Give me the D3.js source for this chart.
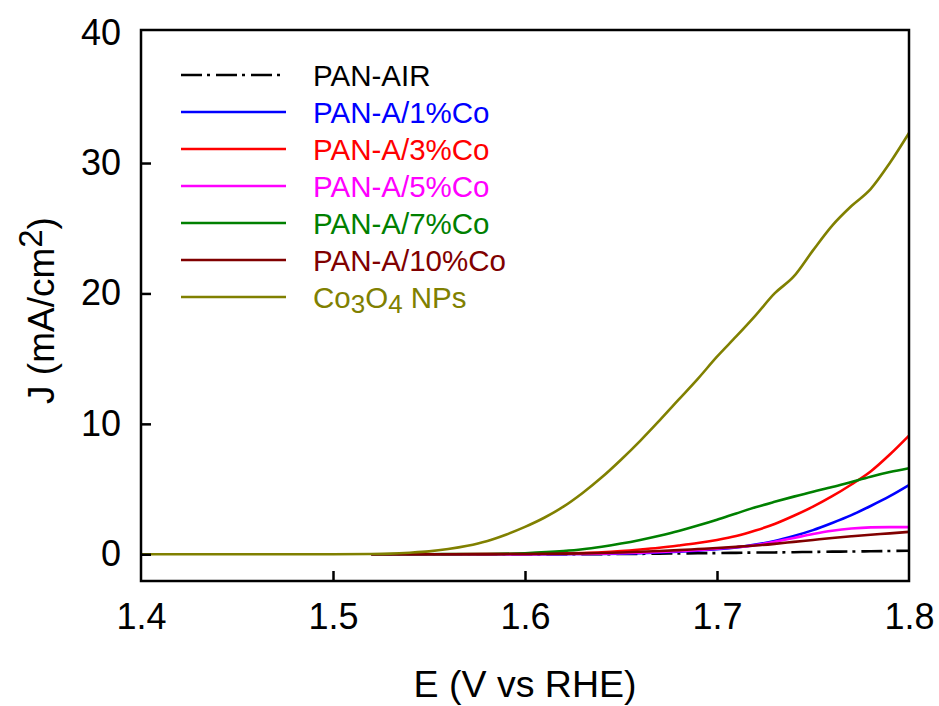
<!DOCTYPE html>
<html>
<head>
<meta charset="utf-8">
<script src="https://cdn.jsdelivr.net/npm/d3@7/dist/d3.min.js"></script>
<style>
  body { margin: 0; background: #fff; }
  svg { display: block; font-family: "Liberation Sans", Arial, sans-serif; }
</style>
</head>
<body>
<svg id="chart" width="939" height="706"></svg>
<script>
// ---- Data ----
const seriesNames = ["PAN-AIR", "PAN-A/1%Co", "PAN-A/3%Co", "PAN-A/5%Co", "PAN-A/7%Co", "PAN-A/10%Co", "Co3O4 NPs"];
const seriesColors = ["#000000", "#0000FF", "#FF0000", "#FF00FF", "#008000", "#800000", "#808000"];

const E_late = [1.52, 1.55, 1.58, 1.60, 1.62, 1.63, 1.64, 1.65, 1.66, 1.67, 1.68, 1.69, 1.70, 1.71, 1.72, 1.73, 1.74, 1.75, 1.76, 1.77, 1.78, 1.79, 1.80];
const J_panAir = [0, 0, 0, 0, 0, 0.01, 0.01, 0.02, 0.03, 0.05, 0.06, 0.08, 0.09, 0.11, 0.13, 0.14, 0.16, 0.18, 0.2, 0.21, 0.23, 0.25, 0.27];
const J_1Co   = [0, 0, 0, 0, 0.01, 0.02, 0.03, 0.05, 0.08, 0.13, 0.2, 0.28, 0.38, 0.53, 0.74, 1.02, 1.4, 1.85, 2.4, 3.0, 3.7, 4.45, 5.3];
const J_3Co   = [0, 0, 0.01, 0.03, 0.07, 0.1, 0.15, 0.24, 0.36, 0.5, 0.67, 0.86, 1.1, 1.4, 1.82, 2.32, 2.95, 3.65, 4.45, 5.35, 6.35, 7.65, 9.1];
const J_5Co   = [0, 0, 0, 0.01, 0.02, 0.03, 0.05, 0.08, 0.12, 0.17, 0.24, 0.32, 0.42, 0.54, 0.7, 0.95, 1.25, 1.55, 1.8, 1.97, 2.06, 2.08, 2.08];
const J_7Co   = [0, 0.005, 0.02, 0.08, 0.24, 0.38, 0.58, 0.82, 1.1, 1.42, 1.78, 2.2, 2.65, 3.13, 3.6, 4.02, 4.42, 4.8, 5.15, 5.55, 5.95, 6.3, 6.6];
const J_10Co  = [0, 0.005, 0.01, 0.02, 0.05, 0.07, 0.1, 0.14, 0.19, 0.25, 0.32, 0.4, 0.48, 0.57, 0.67, 0.8, 0.95, 1.1, 1.25, 1.38, 1.5, 1.6, 1.72];

const E_co3o4 = [1.40, 1.45, 1.50, 1.52, 1.53, 1.54, 1.55, 1.56, 1.57, 1.58, 1.59, 1.60, 1.61, 1.62, 1.63, 1.64, 1.65, 1.66, 1.67, 1.68, 1.69, 1.70, 1.71, 1.72, 1.73, 1.74, 1.75, 1.76, 1.77, 1.78, 1.79, 1.80];
const J_co3o4 = [0, 0, 0, 0.02, 0.05, 0.12, 0.22, 0.4, 0.65, 1.0, 1.5, 2.1, 2.8, 3.65, 4.7, 5.9, 7.25, 8.7, 10.25, 11.85, 13.45, 15.15, 16.7, 18.3, 20.0, 21.3, 23.3, 25.2, 26.7, 28.0, 30.0, 32.3];

const xTicks = [1.4, 1.5, 1.6, 1.7, 1.8];
const yTicks = [0, 10, 20, 30, 40];
const xTitle = "E (V vs RHE)";

// ---- Layout ----
const svg = d3.select("#chart");
const L = 141, R = 909, T = 30, B = 581;
const x = d3.scaleLinear().domain([1.4, 1.8]).range([L, R]);
const y = d3.scaleLinear().domain([-2.05, 40.2]).range([B, T]);

const series = [
  { E: E_late, J: J_panAir },
  { E: E_late, J: J_1Co },
  { E: E_late, J: J_3Co },
  { E: E_late, J: J_5Co },
  { E: E_late, J: J_7Co },
  { E: E_late, J: J_10Co },
  { E: E_co3o4, J: J_co3o4 }
].map((s, i) => ({ name: seriesNames[i], color: seriesColors[i], pts: s.E.map((e, k) => [e, s.J[k]]) }));

const line = d3.line().x(d => x(d[0])).y(d => y(d[1])).curve(d3.curveMonotoneX);
const dashAir = "21,5,3,6";

const gLines = svg.append("g");
series.forEach((s, i) => {
  gLines.append("path")
    .attr("d", line(s.pts))
    .attr("fill", "none")
    .attr("stroke", s.color)
    .attr("stroke-width", 2.6)
    .attr("stroke-dasharray", i === 0 ? dashAir : null);
});

// ---- Axes (box with inward ticks) ----
const xAxis = d3.axisBottom(x).tickValues(xTicks).tickSizeInner(-10).tickSizeOuter(0).tickPadding(22).tickFormat(d3.format(".1f"));
const yAxis = d3.axisLeft(y).tickValues(yTicks).tickSizeInner(-10).tickSizeOuter(0).tickPadding(20);

const gx = svg.append("g").attr("transform", `translate(0,${B})`).call(xAxis);
const gy = svg.append("g").attr("transform", `translate(${L},0)`).call(yAxis);
[gx, gy].forEach(g => {
  g.select(".domain").remove();
  g.selectAll(".tick line").attr("stroke", "#000").attr("stroke-width", 2.5);
  g.selectAll(".tick text").attr("font-size", 36).attr("fill", "#000").attr("font-family", "Liberation Sans, Arial, sans-serif");
});
gx.selectAll(".tick text").attr("dy", "0.71em");
gx.selectAll(".tick line").filter(d => d === 1.4 || d === 1.8).remove();
gy.selectAll(".tick line").filter(d => d === 40).remove();

svg.append("rect")
  .attr("x", L).attr("y", T).attr("width", R - L).attr("height", B - T)
  .attr("fill", "none").attr("stroke", "#000").attr("stroke-width", 2.5);

// ---- Axis titles ----
svg.append("text")
  .attr("x", (L + R) / 2).attr("y", 697)
  .attr("text-anchor", "middle").attr("font-size", 37.5).attr("fill", "#000")
  .text(xTitle);

const yt = svg.append("text")
  .attr("transform", `translate(54,${(T + B) / 2 + 5}) rotate(-90)`)
  .attr("text-anchor", "middle").attr("font-size", 37).attr("fill", "#000");
yt.append("tspan").text("J (mA/cm");
yt.append("tspan").attr("dy", -12).attr("font-size", 33).text("2");
yt.append("tspan").attr("dy", 12).text(")");

// ---- Legend ----
const legY0 = 75, legDy = 37;
const gLeg = svg.append("g");
series.forEach((s, i) => {
  const yy = legY0 + i * legDy;
  gLeg.append("line")
    .attr("x1", 181).attr("x2", 286).attr("y1", yy).attr("y2", yy)
    .attr("stroke", s.color).attr("stroke-width", 2.6)
    .attr("stroke-dasharray", i === 0 ? dashAir : null);
  const t = gLeg.append("text")
    .attr("x", 313).attr("y", yy + 10.5)
    .attr("font-size", 29.5).attr("fill", s.color);
  if (s.name === "Co3O4 NPs") {
    t.append("tspan").text("Co");
    t.append("tspan").attr("dy", 5).attr("font-size", 26).text("3");
    t.append("tspan").attr("dy", -5).text("O");
    t.append("tspan").attr("dy", 5).attr("font-size", 26).text("4");
    t.append("tspan").attr("dy", -5).text(" NPs");
  } else {
    t.text(s.name);
  }
});
</script>
</body>
</html>
